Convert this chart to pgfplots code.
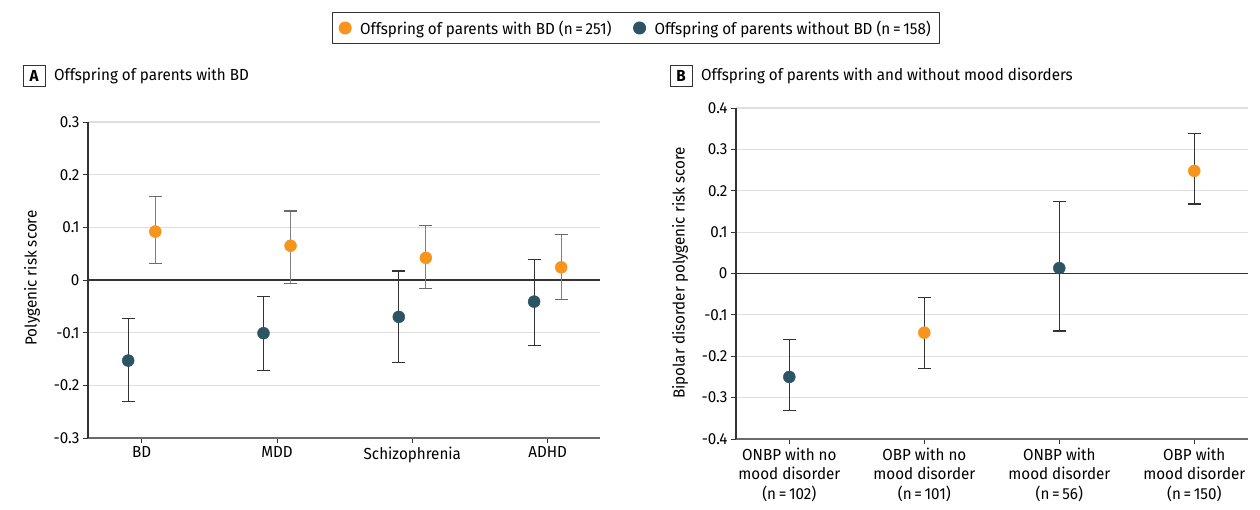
\documentclass[border=0pt]{standalone}
\usepackage{pgfplots}
\usepackage{pgfplotstable}
\pgfplotsset{compat=1.18}
\usepackage{fontspec}
\setmainfont{Fira Sans}[FakeStretch=0.95]
\definecolor{borange}{HTML}{F7941D}
\definecolor{bnavy}{HTML}{2C5463}
\definecolor{gridc}{HTML}{DEDEDE}
\definecolor{axc}{HTML}{333333}
\definecolor{axx}{HTML}{6A6A6A}
\definecolor{barg}{HTML}{7F7F7F}
\newcommand{\fs}{\fontsize{16}{19.5}\selectfont}

\pgfplotstableread{
x y lo hi
0.1 0.092 0.031 0.159
1.1 0.065 -0.006 0.131
2.1 0.042 -0.016 0.103
3.1 0.024 -0.037 0.087
}\Aorange
\pgfplotstableread{
x y lo hi
-0.1 -0.153 -0.231 -0.073
0.9 -0.101 -0.171 -0.032
1.9 -0.070 -0.156 0.017
2.9 -0.041 -0.125 0.039
}\Anavy
\pgfplotstableread{
x y lo hi
1 -0.143 -0.229 -0.057
3 0.248 0.168 0.339
}\Borange
\pgfplotstableread{
x y lo hi
0 -0.250 -0.331 -0.160
2 0.013 -0.139 0.173
}\Bnavy

\pgfplotsset{
  panel/.style={
    scale only axis,
    axis x line*=bottom, axis y line*=left,
    x axis line style={axx, line width=1.2pt},
    y axis line style={axc, line width=1.2pt},
    tick align=outside, major tick length=5pt,
    xtick pos=bottom, ytick pos=left,
    tick style={axc, line width=1pt},
    ymajorgrids, major grid style={gridc, line width=1.2pt},
    ticklabel style={font=\fs},
    /pgf/number format/assume math mode=true,
    yticklabel style={/pgf/number format/fixed, /pgf/number format/precision=1},
    xtick={0,1,2,3},
    clip=false,
  },
  pt/.style={only marks, mark=*, mark size=6pt, mark options={draw=#1, fill=#1}},
  eb/.style 2 args={error bars/.cd, y dir=both, y explicit,
     error bar style={#1, line width=1.1pt},
     error mark options={rotate=90, #2, line width=1.1pt, mark size=6.5pt}},
}

\begin{document}
\begin{tikzpicture}[x=1pt,y=1pt]
\useasboundingbox (0pt,0pt) rectangle (1260pt,-510pt);

% Panel A
\begin{axis}[panel,
  at={(88pt,-438pt)}, anchor=south west,
  width=512pt, height=316pt,
  xmin=-0.397, xmax=3.387, ymin=-0.3, ymax=0.3,
  ytick={-0.3,-0.2,-0.1,0,0.1,0.2,0.3},
  xticklabels={BD,MDD,Schizophrenia,ADHD},
  legend columns=2,
  legend style={at={(1.0703,1.2975)}, anchor=center, draw=axc, line width=1pt,
    font=\fs, inner xsep=7pt, inner ysep=6pt,
    /tikz/every odd column/.append style={column sep=7pt},
    /tikz/every even column/.append style={column sep=20pt}},
  legend cell align=left,
]
\draw[axc, line width=1.2pt] (rel axis cs:0,0.5) -- (rel axis cs:1,0.5);
\addplot[pt=borange, eb={barg}{axx}] table[x=x, y=y,
  y error plus expr=\thisrow{hi}-\thisrow{y},
  y error minus expr=\thisrow{y}-\thisrow{lo}] {\Aorange};
\addlegendentry{Offspring of parents with BD (n\,=\,251)}
\addplot[pt=bnavy, eb={axc}{axc}] table[x=x, y=y,
  y error plus expr=\thisrow{hi}-\thisrow{y},
  y error minus expr=\thisrow{y}-\thisrow{lo}] {\Anavy};
\addlegendentry{Offspring of parents without BD (n\,=\,158)}
\end{axis}

% Panel B
\begin{axis}[panel,
  at={(736pt,-439pt)}, anchor=south west,
  width=512pt, height=331pt,
  xmin=-0.395, xmax=3.398, ymin=-0.4, ymax=0.4,
  ytick={-0.4,-0.3,-0.2,-0.1,0,0.1,0.2,0.3,0.4},
  xticklabel style={align=center},
  xticklabels={{ONBP with no\\mood disorder\\(n\,=\,102)},
               {OBP with no\\mood disorder\\(n\,=\,101)},
               {ONBP with\\mood disorder\\(n\,=\,56)},
               {OBP with\\mood disorder\\(n\,=\,150)}},
]
\draw[axc, line width=1.2pt] (rel axis cs:0,0.5) -- (rel axis cs:1,0.5);
\addplot[pt=borange, eb={axc}{axc}] table[x=x, y=y,
  y error plus expr=\thisrow{hi}-\thisrow{y},
  y error minus expr=\thisrow{y}-\thisrow{lo}] {\Borange};
\addplot[pt=bnavy, eb={axc}{axc}] table[x=x, y=y,
  y error plus expr=\thisrow{hi}-\thisrow{y},
  y error minus expr=\thisrow{y}-\thisrow{lo}] {\Bnavy};
\end{axis}

% Labels and titles
\node[rotate=90, font=\fs] at (32pt,-278pt) {Polygenic risk score};
\node[rotate=90, font=\fs] at (680pt,-273pt) {Bipolar disorder polygenic risk score};
\node[draw=axc, line width=0.8pt, minimum width=22pt, minimum height=21pt, inner sep=0pt,
  font=\fs\bfseries] at (34pt,-76pt) {A};
\node[anchor=west, font=\fs, inner sep=0pt] at (54pt,-76pt) {Offspring of parents with BD};
\node[draw=axc, line width=0.8pt, minimum width=22pt, minimum height=21pt, inner sep=0pt,
  font=\fs\bfseries] at (681pt,-76pt) {B};
\node[anchor=west, font=\fs, inner sep=0pt] at (701pt,-76pt) {Offspring of parents with and without mood disorders};
\end{tikzpicture}
\end{document}
